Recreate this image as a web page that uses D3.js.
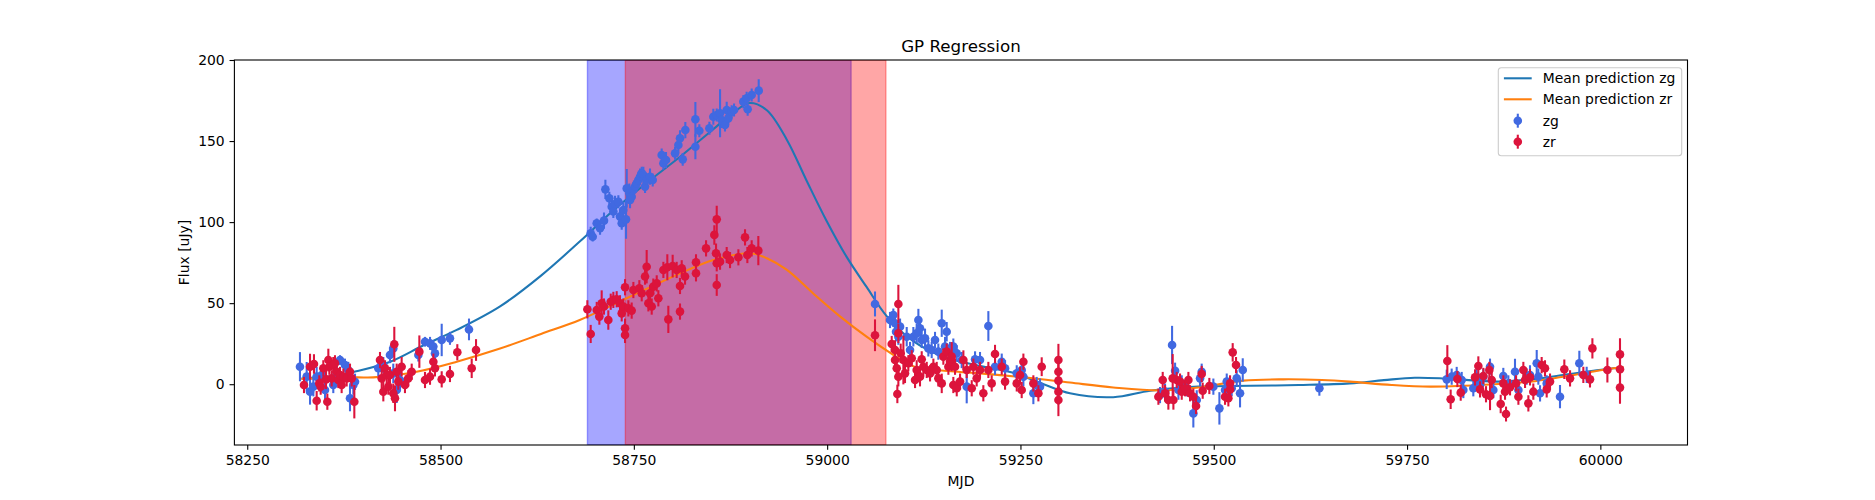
<!DOCTYPE html>
<html>
<head>
<meta charset="utf-8">
<script src="https://cdn.jsdelivr.net/npm/d3@7"></script>
<style>
  body { margin: 0; background: #fff; }
  svg { display: block; font-family: "DejaVu Sans", sans-serif; }
</style>
</head>
<body>
<svg id="chart" width="1875" height="500"></svg>
<script>
// zg photometry: [mjd, flux, error]
var gPoints = [
  [58318.2, 10.8, 9], [58326.9, 4.7, 9], [58331.2, -4.6, 8], [58335.5, -1.5, 6], [58339.8, 4.7, 6],
  [58346.3, 5.7, 5], [58350.6, -3.6, 6], [58361.3, -0.5, 5], [58365.7, 6.7, 5], [58370.0, 14.9, 3],
  [58376.4, 11.8, 4], [58380.7, 8.8, 5], [58382.9, -8.7, 8], [58387.2, -0.5, 6], [58389.4, 1.5, 5],
  [58419.5, 9.8, 5], [58426.0, 11.8, 5], [58434.6, 18.0, 5], [58438.9, 22.1, 5], [58443.3, -3.6, 8],
  [58447.6, 2.6, 7], [58438.9, 6.7, 6], [58471.3, 18.0, 4], [58479.9, 26.2, 3], [58486.4, 25.2, 4],
  [58490.7, 23.2, 4], [58492.8, 19.0, 5], [58501.5, 27.3, 10], [58512.2, 28.3, 4], [58536.8, 33.8, 6.7],
  [58694.2, 93.1, 4], [58696.8, 91.0, 3], [58702.0, 99.3, 3], [58706.3, 96.2, 4], [58711.4, 100.9, 5],
  [58713.2, 120.2, 6], [58718.3, 114.7, 4], [58721.4, 109.5, 5], [58723.5, 106.5, 4], [58725.7, 111.2, 5],
  [58730.0, 112.6, 4], [58732.1, 103.4, 5], [58734.3, 99.3, 4], [58736.4, 107.5, 5], [58739.9, 101.7, 12],
  [58740.8, 120.8, 12], [58744.2, 117.8, 6], [58745.1, 113.6, 5], [58747.2, 115.7, 4], [58749.4, 119.8, 5],
  [58751.5, 121.9, 4], [58753.7, 123.9, 4], [58755.8, 126.0, 5], [58758.0, 128.0, 5], [58760.2, 130.1, 4],
  [58762.3, 129.1, 5], [58764.5, 121.9, 4], [58766.6, 126.0, 4], [58770.9, 128.0, 5], [58774.4, 126.0, 4],
  [58786.0, 141.4, 4], [58788.2, 136.3, 4], [58791.6, 138.3, 5], [58803.3, 142.4, 4], [58807.6, 147.6, 5],
  [58809.7, 151.7, 5], [58813.2, 138.7, 4], [58816.6, 156.8, 5], [58829.6, 163.4, 10.7], [58829.6, 146.5, 7.7],
  [58834.7, 156.4, 4], [58847.7, 157.9, 4], [58852.8, 165.0, 5], [58857.2, 166.1, 4], [58861.5, 167.1, 14.8],
  [58863.6, 163.0, 5], [58867.9, 159.9, 4], [58870.1, 169.2, 5], [58872.2, 164.0, 4], [58876.5, 168.1, 4],
  [58879.6, 169.2, 4], [58891.6, 174.3, 4], [58895.9, 176.4, 4], [58897.2, 169.6, 4], [58902.4, 178.4, 4],
  [58911.5, 181.1, 7], [59061.9, 49.5, 7.7],
  [59081.3, 39.6, 5], [59085.6, 42.7, 4], [59087.8, 37.6, 5], [59089.1, 32.4, 6], [59092.1, 29.3, 5],
  [59094.3, 35.5, 5], [59102.9, 29.3, 6], [59107.2, 21.1, 5], [59111.5, 29.3, 6], [59115.8, 31.4, 6],
  [59118.0, 39.6, 6.9], [59120.1, 34.5, 5], [59122.3, 27.3, 5], [59126.6, 28.3, 6], [59130.9, 22.1, 5],
  [59135.2, 21.1, 5], [59139.5, 27.3, 5], [59143.8, 20.1, 5], [59148.2, 37.6, 8.4], [59152.5, 23.2, 6],
  [59154.6, 32.4, 6], [59158.9, 21.1, 5], [59163.2, 23.2, 5], [59167.6, 19.1, 5], [59174.0, 14.9, 5],
  [59180.5, -1.5, 10.3], [59191.3, 15.3, 5], [59197.7, 14.9, 5], [59208.5, 35.9, 9.2], [59217.1, 10.8, 5],
  [59225.8, 13.9, 5], [59230.1, 9.8, 5], [59245.2, 6.7, 5], [59251.6, 8.8, 6], [59253.8, 4.65, 6],
  [59266.7, -5.6, 6.7], [59275.3, -1.5, 5], [59271.0, -0.5, 5],
  [59430.5, -6.7, 5], [59437.0, -4.6, 5], [59446.1, 24.2, 11.8], [59450.0, 8.3, 5], [59454.3, -3.6, 6],
  [59458.6, 0.5, 5], [59465.0, -2.5, 5], [59473.6, -18.0, 8.7], [59478.0, -9.7, 6], [59482.3, 3.6, 5],
  [59484.4, 7.7, 5], [59499.5, -1.5, 5], [59507.3, -14.9, 10], [59514.6, -3.6, 6], [59516.8, 1.6, 5],
  [59523.2, -2.5, 5], [59529.7, 3.6, 5], [59534.0, -5.6, 8.7], [59537.5, 8.8, 7.2], [59636.6, -2.5, 4.6],
  [59801.3, 3.0, 6], [59807.7, 4.65, 5], [59814.2, 5.7, 5], [59820.7, 2.6, 5], [59822.8, -3.6, 5],
  [59835.7, -2.5, 5], [59840.0, 4.65, 5], [59844.4, -0.5, 5], [59848.7, 4.65, 5], [59857.3, 10.8, 5],
  [59861.6, -3.6, 5], [59874.5, 5.1, 5], [59881.0, 0.5, 5], [59889.6, 7.7, 8], [59894.0, -3.6, 5],
  [59904.7, 4.65, 5], [59909.0, 5.7, 6], [59917.7, 12.9, 8.2], [59919.8, 4.65, 5], [59922.0, -5.6, 5],
  [59930.6, 0.5, 5], [59947.8, -7.7, 7.2], [59972.8, 12.9, 7.7], [59982.3, 5.7, 5]
];

// zr photometry: [mjd, flux, error]
var rPoints = [
  [58323.4, -0.5, 5], [58331.2, 10.8, 8], [58336.3, 12.5, 6], [58339.8, -10.2, 6], [58343.2, 0.5, 5],
  [58345.0, -1.5, 5], [58348.4, 9.8, 5], [58351.9, 3.0, 6], [58353.6, -10.8, 5], [58354.9, 14.9, 7],
  [58356.2, 10.8, 5], [58359.2, 3.6, 5], [58361.3, 11.8, 5], [58363.5, 12.9, 5], [58365.7, 7.7, 5],
  [58367.8, 2.6, 5], [58370.0, 5.7, 5], [58372.1, -0.5, 5], [58374.3, 4.65, 5], [58378.6, 3.6, 5],
  [58382.9, 7.7, 5], [58385.1, 3.6, 5], [58388.5, -10.8, 10.3], [58421.7, 14.9, 5], [58423.9, 3.6, 6],
  [58426.0, -4.6, 6], [58428.2, 9.8, 5], [58430.3, 5.7, 5], [58432.5, -1.5, 5], [58434.6, 5.7, 5],
  [58438.9, -5.6, 6], [58440.2, 24.6, 10.8], [58441.1, -8.7, 8], [58443.3, 7.7, 5], [58445.4, 1.6, 5],
  [58449.7, 10.8, 6], [58454.0, -0.5, 5], [58458.3, 3.6, 5], [58462.7, 7.7, 5], [58472.6, 20.1, 10],
  [58479.9, 2.6, 5], [58486.4, 4.65, 5], [58490.7, 13.9, 5], [58492.8, 9.8, 5], [58501.5, 3.0, 5],
  [58512.2, 6.3, 5], [58521.7, 19.7, 5], [58540.3, 9.8, 6], [58545.9, 21.1, 6.7],
  [58689.9, 46.2, 5.6], [58694.2, 31.0, 5.6], [58702.0, 45.8, 5], [58705.4, 41.7, 5], [58708.4, 49.9, 8],
  [58711.4, 47.9, 5], [58717.0, 39.6, 6], [58720.1, 50.9, 5], [58723.5, 52.0, 5], [58727.8, 52.4, 5],
  [58732.1, 49.9, 5], [58734.3, 43.7, 5], [58736.4, 47.9, 5], [58738.6, 34.5, 6], [58738.6, 30.4, 5],
  [58738.6, 59.8, 5], [58742.9, 46.8, 5], [58747.2, 45.4, 5], [58749.4, 58.1, 5], [58757.1, 59.2, 5],
  [58760.2, 56.1, 5], [58764.5, 66.4, 5], [58766.6, 72.5, 10.3], [58768.8, 49.9, 5], [58770.9, 56.1, 5],
  [58773.1, 47.9, 5], [58775.2, 60.2, 5], [58779.6, 62.2, 5], [58781.7, 53.0, 5], [58788.2, 70.5, 5],
  [58793.3, 72.1, 8], [58794.6, 40.0, 8.4], [58800.2, 72.9, 7], [58805.4, 70.5, 5], [58809.7, 60.6, 5],
  [58811.9, 71.5, 5], [58809.7, 44.8, 5], [58816.2, 66.4, 5], [58830.4, 75.2, 5], [58830.4, 68.4, 5],
  [58843.4, 83.8, 5], [58854.1, 92.1, 6], [58857.2, 101.7, 8.4], [58856.3, 80.8, 6], [58857.2, 74.6, 5],
  [58857.2, 61.2, 6.7], [58861.5, 75.6, 5], [58870.1, 79.7, 5], [58874.4, 76.6, 5], [58885.2, 78.3, 5],
  [58893.8, 90.6, 5], [58896.8, 79.7, 5], [58902.4, 83.8, 5], [58911.0, 82.4, 9], [59061.9, 30.2, 9.8],
  [59092.1, 49.5, 11.8], [59092.1, 31.4, 6], [59083.5, 24.8, 5], [59087.8, 21.1, 6], [59087.8, 14.9, 6],
  [59090.0, 9.8, 6], [59092.1, 4.65, 6], [59090.8, -6.0, 5.7], [59095.1, 19.05, 6], [59098.6, 14.9, 15],
  [59100.7, 6.7, 6], [59105.0, 12.9, 5], [59109.4, 16.0, 5], [59113.7, 2.6, 5], [59115.8, 8.8, 6],
  [59120.1, 4.65, 6], [59122.3, 15.35, 5], [59124.4, 10.8, 6], [59128.8, 8.8, 5], [59133.1, 6.7, 5],
  [59137.4, 10.8, 5], [59141.7, 8.8, 5], [59143.8, 3.6, 5], [59148.2, 0.5, 6], [59150.3, 17.0, 5],
  [59154.6, 20.1, 5], [59156.8, 10.8, 5], [59158.9, 13.9, 5], [59161.1, 17.0, 9], [59163.2, -0.5, 5],
  [59165.4, 10.8, 5], [59167.6, -2.5, 5], [59171.9, 1.6, 5], [59176.2, 14.9, 6], [59180.5, 8.8, 5],
  [59187.0, -2.5, 5], [59189.1, 10.8, 5], [59193.4, 3.6, 5], [59197.7, 8.8, 5], [59202.0, -5.6, 5],
  [59208.5, 8.8, 5], [59212.8, 0.5, 5], [59217.1, 18.6, 5.7], [59225.8, 10.8, 5], [59230.1, 1.6, 5],
  [59245.2, 0.5, 5], [59249.5, 5.7, 5], [59253.8, 13.9, 5], [59251.6, -3.6, 5], [59266.7, 0.5, 5],
  [59273.2, -5.6, 5], [59277.5, 10.8, 5.8], [59299.1, 14.9, 10], [59299.1, 7.7, 8], [59299.1, 2.2, 8],
  [59299.1, -4.6, 8], [59299.1, -9.7, 10],
  [59428.4, -7.7, 5], [59434.0, 2.6, 5], [59437.0, -5.6, 5], [59441.3, -9.7, 6], [59446.9, 3.6, 15],
  [59447.8, -9.7, 6], [59452.1, 2.6, 5], [59456.4, 1.6, 5], [59458.6, -4.6, 5], [59462.9, -2.5, 5],
  [59467.2, 2.6, 5], [59469.3, -5.6, 5], [59473.6, -7.7, 5], [59477.1, -13.4, 5], [59484.4, 6.3, 5],
  [59485.7, -4.0, 5], [59494.3, -1.1, 5], [59514.6, -7.7, 5], [59518.9, -8.7, 5], [59521.1, 0.5, 5],
  [59521.1, -3.2, 5], [59524.5, 19.65, 5.7], [59528.8, 11.8, 5],
  [59802.1, 14.3, 9.8], [59806.4, -9.3, 6], [59815.1, 3.2, 5], [59819.4, -5.2, 5], [59837.9, 4.2, 5],
  [59842.2, 11.2, 6], [59844.4, -3.2, 5], [59848.7, 5.1, 5], [59852.1, -6.2, 5], [59856.4, 8.8, 5],
  [59857.3, -7.3, 8.7], [59859.5, 2.6, 5], [59871.1, -12.2, 5.7], [59874.5, 0.5, 5], [59878.0, -18.4, 4.6],
  [59876.7, -4.6, 5], [59883.2, -1.9, 5], [59891.0, 0.5, 5], [59894.0, -7.7, 5], [59900.4, 8.8, 5],
  [59902.6, 2.6, 5], [59906.9, -11.8, 5], [59909.0, 4.2, 5], [59913.3, -4.6, 5], [59924.1, 11.8, 5],
  [59928.4, 9.8, 5], [59930.6, -3.2, 5], [59934.9, 1.6, 5], [59953.4, 9.2, 6], [59960.8, 3.6, 5],
  [59978.0, 5.7, 5], [59986.6, 3.0, 5], [59989.7, 22.1, 6.2], [60009.1, 8.8, 7.7], [60025.4, 18.4, 10],
  [60025.4, 9.2, 10], [60025.4, -2.1, 10]
];

// GP mean prediction
var gPredMjd = [58320, 58360, 58391, 58435, 58478, 58521, 58577, 58630, 58680, 58723, 58766, 58809,
  58852, 58880, 58900, 58922, 58948, 58973, 58999, 59025, 59051, 59077, 59110, 59150, 59200, 59241,
  59280, 59314, 59370, 59418, 59480, 59547, 59610, 59676, 59720, 59760, 59800, 59866, 59910, 59952,
  60017, 60030];
var gPredFlux = [3.5, 5, 8, 13.9, 24, 33.5, 48, 67, 88, 107, 124, 140,
  157, 168, 173.5, 169, 150.7, 126, 101, 78.7, 60, 42, 27, 17, 11, 7,
  0, -5.6, -8, -4, -1.5, -1, -0.5, 0.5, 2.5, 4, 3.5, 1.6, 3, 5.7,
  9.8, 10];
var rPredMjd = [58320, 58391, 58413, 58469, 58521, 58577, 58630, 58680, 58723, 58767, 58810, 58853,
  58900, 58922, 58948, 58982, 59017, 59051, 59086, 59112, 59160, 59198, 59260, 59314, 59370, 59430,
  59480, 59538, 59590, 59640, 59676, 59730, 59780, 59844, 59909, 59952, 60017, 60030];
var rPredFlux = [3.2, 4.2, 4.2, 7.7, 13.9, 22, 31, 39.6, 49, 59, 68.4, 76.6,
  80.8, 77.7, 70.5, 56, 41.7, 29.3, 18, 11, 8, 6.7, 4, 1, -2, -3.8,
  -2, 2.2, 3, 2.6, 1.6, -0.5, -1.5, -0.5, 1.6, 4.65, 9.8, 10.5];

var gSpan = [58690, 59031];
var rSpan = [58739, 59076];

var xTicks = [58250, 58500, 58750, 59000, 59250, 59500, 59750, 60000];
var yTicks = [0, 50, 100, 150, 200];

var legendLabels = ["Mean prediction zg", "Mean prediction zr", "zg", "zr"];

var svg = d3.select("#chart");
var margin = { left: 234.4, right: 1687.5, top: 60, bottom: 445 };

var x = d3.scaleLinear().domain([58233.4, 60112.7]).range([margin.left, margin.right]);
var y = d3.scaleLinear().domain([-37.5, 200]).range([margin.bottom, margin.top]);

svg.append("clipPath").attr("id", "plotClip").append("rect")
  .attr("x", margin.left).attr("y", margin.top)
  .attr("width", margin.right - margin.left).attr("height", margin.bottom - margin.top);

var plot = svg.append("g").attr("clip-path", "url(#plotClip)");

// shaded spans
[[gSpan, "blue"], [rSpan, "red"]].forEach(function (s) {
  plot.append("rect")
    .attr("x", x(s[0][0]))
    .attr("y", margin.top)
    .attr("width", x(s[0][1]) - x(s[0][0]))
    .attr("height", margin.bottom - margin.top)
    .attr("fill", s[1])
    .attr("fill-opacity", 0.35)
    .attr("stroke", s[1])
    .attr("stroke-opacity", 0.35)
    .attr("stroke-width", 1.4);
});

// mean predictions
var line = d3.line()
  .x(function (d) { return x(d[0]); })
  .y(function (d) { return y(d[1]); })
  .curve(d3.curveCatmullRom.alpha(0.5));

plot.append("path")
  .datum(d3.zip(gPredMjd, gPredFlux))
  .attr("d", line)
  .attr("fill", "none")
  .attr("stroke", "#1f77b4")
  .attr("stroke-width", 2.08);

plot.append("path")
  .datum(d3.zip(rPredMjd, rPredFlux))
  .attr("d", line)
  .attr("fill", "none")
  .attr("stroke", "#ff7f0e")
  .attr("stroke-width", 2.08);

// error bars + markers
function drawPoints(data, color) {
  var g = plot.append("g");
  g.selectAll("line")
    .data(data)
    .enter().append("line")
    .attr("x1", function (d) { return x(d[0]); })
    .attr("x2", function (d) { return x(d[0]); })
    .attr("y1", function (d) { return y(d[1] - d[2]); })
    .attr("y2", function (d) { return y(d[1] + d[2]); })
    .attr("stroke", color)
    .attr("stroke-width", 2.08);
  g.selectAll("circle")
    .data(data)
    .enter().append("circle")
    .attr("cx", function (d) { return x(d[0]); })
    .attr("cy", function (d) { return y(d[1]); })
    .attr("r", 4.3)
    .attr("fill", color);
}
drawPoints(gPoints, "#4169e1");
drawPoints(rPoints, "#dc143c");

// axes
var xAxis = svg.append("g")
  .attr("transform", "translate(0," + margin.bottom + ")")
  .call(d3.axisBottom(x).tickValues(xTicks).tickFormat(d3.format("d")).tickSizeOuter(0).tickSize(4.86).tickPadding(4.86));
var yAxis = svg.append("g")
  .attr("transform", "translate(" + margin.left + ",0)")
  .call(d3.axisLeft(y).tickValues(yTicks).tickFormat(d3.format("d")).tickSizeOuter(0).tickSize(4.86).tickPadding(4.86));

[xAxis, yAxis].forEach(function (a) {
  a.select(".domain").remove();
  a.selectAll(".tick line").attr("stroke", "#000").attr("stroke-width", 1.1);
  a.selectAll(".tick text")
    .attr("fill", "#000")
    .style("font-family", "DejaVu Sans")
    .style("font-size", "13.9px");
});

// frame
svg.append("rect")
  .attr("x", margin.left).attr("y", margin.top)
  .attr("width", margin.right - margin.left).attr("height", margin.bottom - margin.top)
  .attr("fill", "none").attr("stroke", "#000").attr("stroke-width", 1.1);

// labels
svg.append("text")
  .attr("x", (margin.left + margin.right) / 2).attr("y", 51.5)
  .attr("text-anchor", "middle")
  .style("font-size", "16.7px")
  .text("GP Regression");

svg.append("text")
  .attr("x", (margin.left + margin.right) / 2).attr("y", 486)
  .attr("text-anchor", "middle")
  .style("font-size", "13.9px")
  .text("MJD");

svg.append("text")
  .attr("transform", "translate(189," + ((margin.top + margin.bottom) / 2) + ") rotate(-90)")
  .attr("text-anchor", "middle")
  .style("font-size", "13.9px")
  .text("Flux [uJy]");

// legend
var legend = svg.append("g").attr("transform", "translate(1498.3,67.7)");
legend.append("rect")
  .attr("width", 183.4).attr("height", 88)
  .attr("rx", 3).attr("ry", 3)
  .attr("fill", "#fff").attr("fill-opacity", 0.8)
  .attr("stroke", "#cccccc").attr("stroke-width", 1.1);

var rowY = [10.6, 31.6, 53, 74];
var legendColors = ["#1f77b4", "#ff7f0e", "#4169e1", "#dc143c"];
legendLabels.forEach(function (label, i) {
  if (i < 2) {
    legend.append("line")
      .attr("x1", 5.6).attr("x2", 33.4)
      .attr("y1", rowY[i]).attr("y2", rowY[i])
      .attr("stroke", legendColors[i]).attr("stroke-width", 2.08);
  } else {
    legend.append("line")
      .attr("x1", 19.5).attr("x2", 19.5)
      .attr("y1", rowY[i] - 7).attr("y2", rowY[i] + 7)
      .attr("stroke", legendColors[i]).attr("stroke-width", 2.08);
    legend.append("circle")
      .attr("cx", 19.5).attr("cy", rowY[i]).attr("r", 4.3)
      .attr("fill", legendColors[i]);
  }
  legend.append("text")
    .attr("x", 44.5).attr("y", rowY[i] + 5)
    .style("font-size", "13.9px")
    .attr("fill", "#000")
    .text(label);
});
</script>
</body>
</html>
